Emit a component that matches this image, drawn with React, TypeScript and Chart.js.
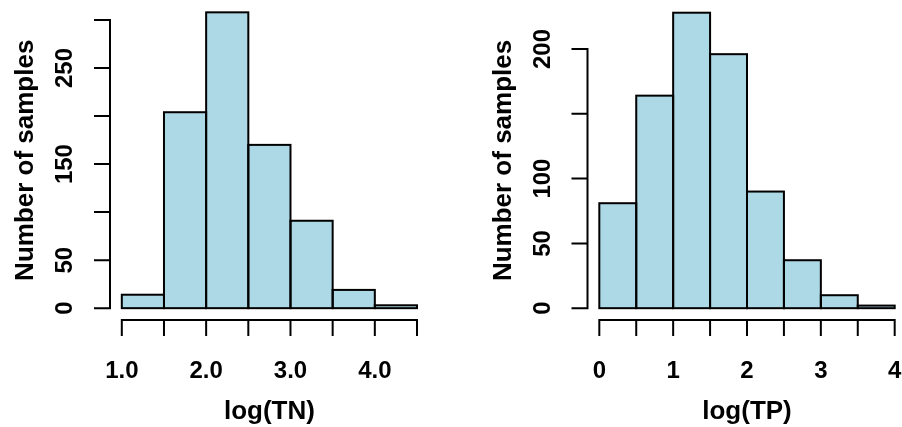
import React, { useEffect, useRef } from "react";
import { Chart, registerables } from "chart.js";

Chart.register(...registerables);

// ---------- data ----------
const binWidth = 0.5;

const tnBinStarts = [1.0, 1.5, 2.0, 2.5, 3.0, 3.5, 4.0];
const tnCounts = [14, 204, 308, 170, 91, 19, 3];
const tnXTicks = [1.0, 1.5, 2.0, 2.5, 3.0, 3.5, 4.0, 4.5];
const tnXTickLabels = ["1.0", "", "2.0", "", "3.0", "", "4.0", ""];
const tnYTicks = [0, 50, 100, 150, 200, 250, 300];
const tnYTickLabels = ["0", "50", "", "150", "", "250", ""];
const tnXTitle = "log(TN)";

const tpBinStarts = [0, 0.5, 1.0, 1.5, 2.0, 2.5, 3.0, 3.5];
const tpCounts = [81, 164, 228, 196, 90, 37, 10, 2];
const tpXTicks = [0, 0.5, 1.0, 1.5, 2.0, 2.5, 3.0, 3.5, 4.0];
const tpXTickLabels = ["0", "", "1", "", "2", "", "3", "", "4"];
const tpYTicks = [0, 50, 100, 150, 200];
const tpYTickLabels = ["0", "50", "100", "", "200"];
const tpXTitle = "log(TP)";

const yTitle = "Number of samples";

// ---------- drawing helpers ----------
const FONT_FAMILY = "'Liberation Sans', Arial, Helvetica, sans-serif";

const rAxesPlugin = {
  id: "rAxes",
  afterDatasetsDraw(chart: any, _args: any, opts: any) {
    const ctx: CanvasRenderingContext2D = chart.ctx;
    const xs = chart.scales.x;
    const ys = chart.scales.y;
    const area = chart.chartArea;
    ctx.save();

    // bar outlines (R style, stroke centred on edges)
    ctx.strokeStyle = "#000";
    ctx.lineWidth = 2;
    ctx.lineJoin = "miter";
    const meta = chart.getDatasetMeta(0);
    meta.data.forEach((el: any) => {
      const p = el.getProps(["x", "y", "base", "width"], true);
      ctx.strokeRect(p.x - p.width / 2, p.y, p.width, p.base - p.y);
    });

    ctx.lineCap = "square";
    const tickLen = 15;

    // y axis
    const axX = area.left;
    const yT: number[] = opts.yTicks;
    ctx.beginPath();
    ctx.moveTo(axX, ys.getPixelForValue(yT[0]));
    ctx.lineTo(axX, ys.getPixelForValue(yT[yT.length - 1]));
    yT.forEach((v) => {
      const py = ys.getPixelForValue(v);
      ctx.moveTo(axX, py);
      ctx.lineTo(axX - tickLen, py);
    });
    ctx.stroke();

    // x axis
    const axY = area.bottom;
    const xT: number[] = opts.xTicks;
    ctx.beginPath();
    ctx.moveTo(xs.getPixelForValue(xT[0]), axY);
    ctx.lineTo(xs.getPixelForValue(xT[xT.length - 1]), axY);
    xT.forEach((v) => {
      const px = xs.getPixelForValue(v);
      ctx.moveTo(px, axY);
      ctx.lineTo(px, axY + tickLen);
    });
    ctx.stroke();

    ctx.fillStyle = "#000";
    ctx.font = `bold 24px ${FONT_FAMILY}`;
    ctx.textAlign = "center";
    ctx.textBaseline = "alphabetic";

    // x tick labels
    xT.forEach((v, i) => {
      const lab = opts.xTickLabels[i];
      if (!lab) return;
      ctx.fillText(lab, xs.getPixelForValue(v), axY + 58);
    });

    // y tick labels (rotated)
    yT.forEach((v, i) => {
      const lab = opts.yTickLabels[i];
      if (!lab) return;
      ctx.save();
      ctx.translate(axX - 38, ys.getPixelForValue(v));
      ctx.rotate(-Math.PI / 2);
      ctx.fillText(lab, 0, 0);
      ctx.restore();
    });

    // titles
    ctx.font = `bold 26px ${FONT_FAMILY}`;
    ctx.fillText(opts.xTitle, (area.left + area.right) / 2, axY + 99);
    ctx.save();
    ctx.translate(axX - 77, (area.top + area.bottom) / 2);
    ctx.rotate(-Math.PI / 2);
    ctx.fillText(opts.yTitle, 0, 0);
    ctx.restore();

    ctx.restore();
  },
};

function makeConfig(
  binStarts: number[],
  counts: number[],
  xTicks: number[],
  xTickLabels: string[],
  yTicks: number[],
  yTickLabels: string[],
  xTitle: string,
  padding: any
): any {
  const xLo = binStarts[0];
  const xHi = binStarts[binStarts.length - 1] + binWidth;
  const xExt = (xHi - xLo) * 0.04;
  const yHi = Math.max(...counts);
  const yExt = yHi * 0.04;
  return {
    type: "bar",
    data: {
      datasets: [
        {
          data: binStarts.map((s, i) => ({ x: s + binWidth / 2, y: counts[i] })),
          backgroundColor: "#ADD8E6",
          borderWidth: 0,
          barPercentage: 1,
          categoryPercentage: 1,
        },
      ],
    },
    options: {
      animation: false,
      responsive: false,
      devicePixelRatio: 1,
      events: [],
      layout: { padding },
      plugins: {
        legend: { display: false },
        tooltip: { enabled: false },
        rAxes: { xTicks, xTickLabels, yTicks, yTickLabels, xTitle, yTitle },
      },
      scales: {
        x: {
          type: "linear",
          min: xLo - xExt,
          max: xHi + xExt,
          display: false,
          offset: false,
          afterBuildTicks: (scale: any) => {
            scale.ticks = xTicks.map((v) => ({ value: v }));
          },
        },
        y: {
          type: "linear",
          min: -yExt,
          max: yHi + yExt,
          display: false,
        },
      },
    },
    plugins: [rAxesPlugin],
  };
}

export default function App() {
  const leftRef = useRef<HTMLCanvasElement | null>(null);
  const rightRef = useRef<HTMLCanvasElement | null>(null);

  useEffect(() => {
    const c1 = new Chart(
      leftRef.current as HTMLCanvasElement,
      makeConfig(tnBinStarts, tnCounts, tnXTicks, tnXTickLabels, tnYTicks, tnYTickLabels, tnXTitle, {
        left: 110,
        right: 22.2,
        top: 0.5,
        bottom: 107,
      })
    );
    const c2 = new Chart(
      rightRef.current as HTMLCanvasElement,
      makeConfig(tpBinStarts, tpCounts, tpXTicks, tpXTickLabels, tpYTicks, tpYTickLabels, tpXTitle, {
        left: 136.5,
        right: 4.5,
        top: 0.9,
        bottom: 107,
      })
    );
    return () => {
      c1.destroy();
      c2.destroy();
    };
  }, []);

  return (
    <div
      style={{
        position: "absolute",
        left: 0,
        top: 0,
        width: 902,
        height: 427,
        overflow: "hidden",
        background: "#fff",
      }}
    >
      <canvas
        ref={leftRef}
        width={451}
        height={427}
        style={{ position: "absolute", left: 0, top: 0, width: 451, height: 427 }}
      />
      <canvas
        ref={rightRef}
        width={460}
        height={427}
        style={{ position: "absolute", left: 451, top: 0, width: 460, height: 427 }}
      />
    </div>
  );
}
